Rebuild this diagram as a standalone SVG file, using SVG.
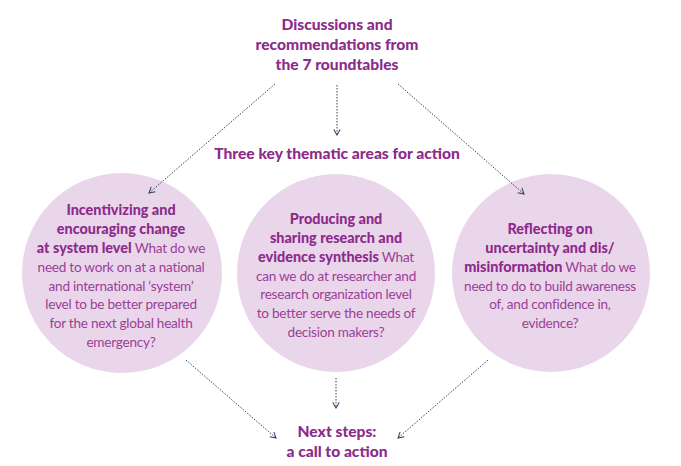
<svg xmlns="http://www.w3.org/2000/svg" width="681" height="466" viewBox="0 0 681 466">
<defs>
<style>
.h{font-family:Lato,"Liberation Sans",sans-serif;font-weight:900;font-size:15.6px;fill:#8c2b8b;text-anchor:middle}
.t{font-family:Lato,"Liberation Sans",sans-serif;font-size:13.6px;letter-spacing:-0.25px;fill:#9a3f97;text-anchor:middle}
.b{font-weight:900;font-size:14.4px;letter-spacing:0;fill:#8c2b8b}
.c{fill:#ead6ea}
.a{stroke:#34405f;stroke-width:1;stroke-dasharray:1.5 1.5;fill:none;marker-end:url(#m)}
</style>
<marker id="m" viewBox="0 0 10 10" refX="9" refY="5" markerWidth="8" markerHeight="8" orient="auto" markerUnits="userSpaceOnUse">
<path d="M2,1 L9,5 L2,9" fill="none" stroke="#34405f" stroke-width="1.3"/>
</marker>
</defs>
<rect width="681" height="466" fill="#fff"/>
<g id="source">
<text class="h" x="337" y="30">Discussions and</text>
<text class="h" x="337" y="50">recommendations from</text>
<text class="h" x="337" y="70">the 7 roundtables</text>
</g>
<g id="areas">
<text class="h" x="337" y="159">Three key thematic areas for action</text>
</g>
<g id="circle-left">
<circle class="c" cx="122" cy="273" r="100"/>
<text class="t" x="121" y="215"><tspan class="b">Incentivizing and</tspan></text>
<text class="t" x="121" y="234"><tspan class="b">encouraging change</tspan></text>
<text class="t" x="121" y="253"><tspan class="b">at system level</tspan> What do we</text>
<text class="t" x="121" y="272">need to work on at a national</text>
<text class="t" x="121" y="291">and international ‘system’</text>
<text class="t" x="121" y="309">level to be better prepared</text>
<text class="t" x="121" y="328">for the next global health</text>
<text class="t" x="121" y="347">emergency?</text>
</g>
<g id="circle-middle">
<circle class="c" cx="336" cy="273" r="99"/>
<text class="t" x="336" y="224"><tspan class="b">Producing and</tspan></text>
<text class="t" x="336" y="243"><tspan class="b">sharing research and</tspan></text>
<text class="t" x="336" y="262"><tspan class="b">evidence synthesis</tspan> What</text>
<text class="t" x="336" y="281">can we do at researcher and</text>
<text class="t" x="336" y="299">research organization level</text>
<text class="t" x="336" y="318">to better serve the needs of</text>
<text class="t" x="336" y="337">decision makers?</text>
</g>
<g id="circle-right">
<circle class="c" cx="551" cy="273" r="99"/>
<text class="t" x="550" y="234"><tspan class="b">Reflecting on</tspan></text>
<text class="t" x="550" y="253"><tspan class="b">uncertainty and dis/</tspan></text>
<text class="t" x="550" y="272"><tspan class="b">misinformation</tspan> What do we</text>
<text class="t" x="550" y="291">need to do to build awareness</text>
<text class="t" x="550" y="309">of, and confidence in,</text>
<text class="t" x="550" y="328">evidence?</text>
</g>
<g id="next-steps">
<text class="h" x="337" y="437">Next steps:</text>
<text class="h" x="337" y="457">a call to action</text>
</g>
<g id="connectors">
<line class="a" x1="275" y1="84" x2="149" y2="193"/>
<line class="a" x1="337" y1="85" x2="337" y2="135"/>
<line class="a" x1="398" y1="84" x2="524" y2="194"/>
<line class="a" x1="186" y1="360" x2="276" y2="438"/>
<line class="a" x1="336" y1="378" x2="336" y2="408"/>
<line class="a" x1="488" y1="360" x2="398" y2="438"/>
</g>
</svg>
